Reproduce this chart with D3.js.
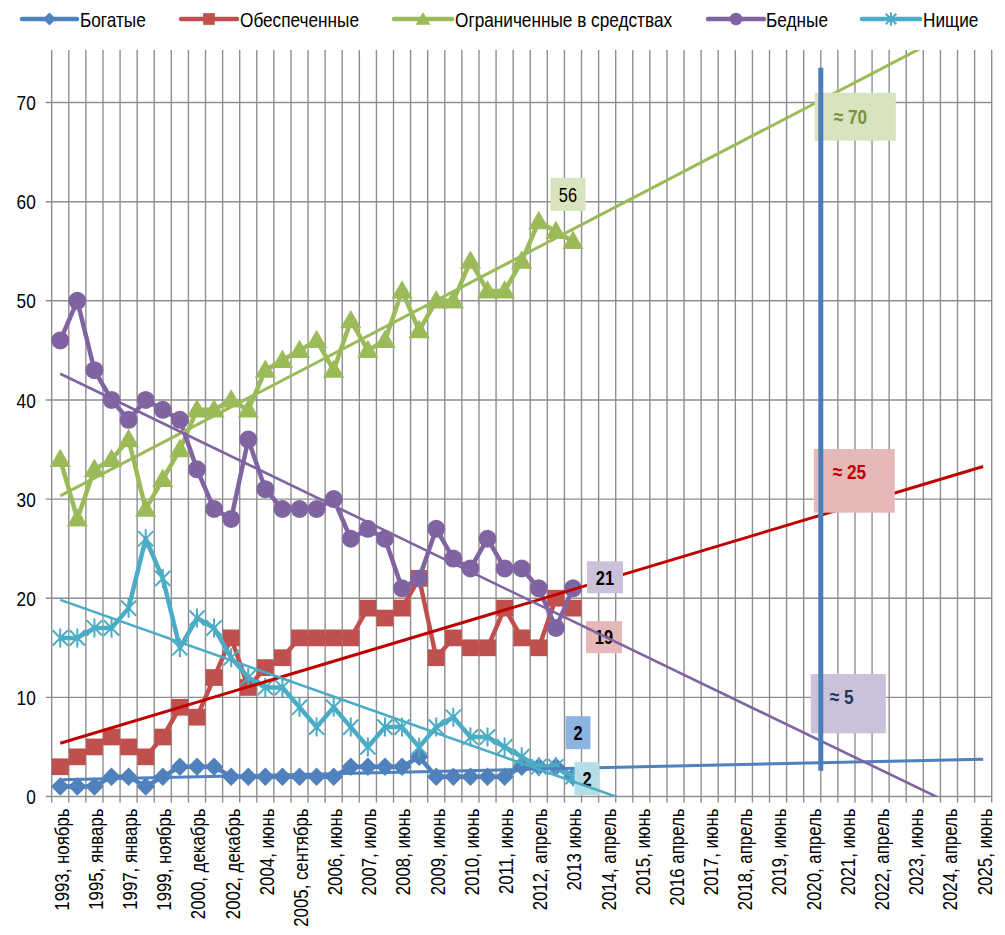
<!DOCTYPE html>
<html><head><meta charset="utf-8">
<script src="https://cdn.jsdelivr.net/npm/d3@7"></script>
<style>html,body{margin:0;padding:0;background:#fff;}</style>
</head><body>
<svg id="chart" width="1005" height="935"></svg>
<script>
// ---------- DATA ----------
const tickLabels = [
  "1993, ноябрь","","1995, январь","","1997, январь","","1999, ноябрь","",
  "2000, декабрь","","2002, декабрь","","2004, июнь","","2005, сентябрь","",
  "2006, июнь","","2007, июль","","2008, июнь","","2009, июнь","",
  "2010, июнь","","2011, июнь","","2012, апрель","","2013 июнь","",
  "2014, апрель","","2015, июнь","","2016 апрель","","2017, июнь","",
  "2018, апрель","","2019, июнь","","2020, апрель","","2021, июнь","",
  "2022, апрель","","2023, июнь","","2024, апрель","","2025, июнь"
];
const seriesNames = ["Богатые","Обеспеченные","Ограниченные в средствах","Бедные","Нищие"];
const rich      = [1,1,1,2,2,1,2,3,3,3,2,2,2,2,2,2,2,3,3,3,3,4,2,2,2,2,2,3,3,3,2];
const wellOff   = [3,4,5,6,5,4,6,9,8,12,16,11,13,14,16,16,16,16,19,18,19,22,14,16,15,15,19,16,15,20,19];
const limited   = [34,28,33,34,36,29,32,35,39,39,40,39,43,44,45,46,43,48,45,46,51,47,50,50,54,51,51,54,58,57,56];
const poor      = [46,50,43,40,38,40,39,38,33,29,28,36,31,29,29,29,30,26,27,26,21,22,27,24,23,26,23,23,21,17,21];
const destitute = [16,16,17,17,19,26,22,15,18,17,14,12,11,11,9,7,9,7,5,7,7,5,7,8,6,6,5,4,3,3,2];
const yTicks = [0,10,20,30,40,50,60,70];
const forecastTexts = ["≈ 70","≈ 25","≈ 5"];
const forecastBoundary = 45;          // category boundary of the 2020 marker line
const forecastLineRange = [2.6, 73.5];

// ---------- SETUP ----------
const svg = d3.select("#chart");
const W = 1005, H = 935;
const L = 51.7, R = 991.7, T = 50, B = 796.5;
const N = tickLabels.length;

function measure(fam){
  const t = svg.append("text").attr("font-family", fam).attr("font-size", 100).text("Ограниченные 1993");
  const w = t.node().getComputedTextLength(); t.remove(); return w;
}
const wN = measure("'Liberation Sans Narrow', 'Liberation Sans'");
const wR = measure("'Liberation Sans'");
const narrow = wN < wR * 0.9;
const FONT = narrow ? "'Liberation Sans Narrow', 'Arial Narrow', sans-serif" : "'Liberation Sans', Arial, sans-serif";
const SX = narrow ? 1 : 0.82;

const x = d3.scaleBand().domain(d3.range(N)).range([L, R]).padding(0);
const bw = x.bandwidth();
const xc = i => x(i) + bw / 2;
const y = d3.scaleLinear().domain([0, 75.3]).range([B, T]);

const colors = ["#4f81bd", "#c0504d", "#9bbb59", "#8064a2", "#4bacc6"];
const trendColors = ["#4f81bd", "#c00000", "#9bbb59", "#8064a2", "#4bacc6"];
const trendWidths = [3, 3, 3, 2.6, 2.6];
const allSeries = [rich, wellOff, limited, poor, destitute];

const GRID = "#8e8e8e";

// ---------- GRID ----------
const grid = svg.append("g");
grid.selectAll("line.h").data(yTicks).join("line")
  .attr("x1", L - 6).attr("x2", R)
  .attr("y1", d => y(d)).attr("y2", d => y(d))
  .attr("stroke", GRID).attr("stroke-width", 1.4);
grid.selectAll("line.v").data(d3.range(N + 1)).join("line")
  .attr("x1", d => L + d * bw).attr("x2", d => L + d * bw)
  .attr("y1", T).attr("y2", B + 6)
  .attr("stroke", GRID).attr("stroke-width", 1.4);

// y labels
svg.append("g").selectAll("text").data(yTicks).join("text")
  .attr("transform", d => `translate(${L - 16},${y(d)}) scale(${SX},1)`)
  .attr("text-anchor", "end").attr("dy", "0.36em")
  .attr("font-family", FONT).attr("font-size", 21).attr("fill", "#000")
  .text(d => d);

// x labels
svg.append("g").selectAll("text").data(d3.range(N).filter(i => tickLabels[i] !== "")).join("text")
  .attr("transform", i => `translate(${xc(i) + 1},${B + 12}) rotate(-90) scale(${SX},1)`)
  .attr("text-anchor", "end").attr("dy", "0.36em")
  .attr("font-family", FONT).attr("font-size", 20.5).attr("fill", "#000")
  .text(i => tickLabels[i]);

// ---------- MARKERS ----------
function asteriskPath(r){
  const d = r * 0.8;
  return `M0,${-r}L0,${r}M${-d},${-d}L${d},${d}M${-d},${d}L${d},${-d}`;
}
function drawMarker(g, k, scale){
  const s = scale || 1;
  if (k === 0) {
    g.append("path").attr("d", d3.symbol(d3.symbolSquare, 170 * s * s)())
      .attr("transform", "rotate(45)").attr("fill", colors[0]);
  } else if (k === 1) {
    g.append("path").attr("d", d3.symbol(d3.symbolSquare, 280 * s * s)()).attr("fill", colors[1]);
  } else if (k === 2) {
    g.append("path").attr("d", d3.symbol(d3.symbolTriangle, 195 * s * s)())
      .attr("transform", "translate(0,1.5)").attr("fill", colors[2]);
  } else if (k === 3) {
    g.append("circle").attr("r", 9 * s).attr("fill", colors[3]);
  } else {
    g.append("path").attr("d", asteriskPath(9.5 * s)).attr("stroke", colors[4])
      .attr("stroke-width", 2).attr("fill", "none");
  }
}

// ---------- SERIES ----------
const line = d3.line().x((d, i) => xc(i)).y(d => y(d));
allSeries.forEach((vals, k) => {
  const g = svg.append("g");
  g.append("path").attr("d", line(vals)).attr("fill", "none")
    .attr("stroke", colors[k]).attr("stroke-width", 4.5).attr("stroke-linejoin", "round");
  vals.forEach((v, i) => {
    const m = g.append("g").attr("transform", `translate(${xc(i)},${y(v)})`);
    drawMarker(m, k, 1);
  });
});

// ---------- TRENDS ----------
svg.append("clipPath").attr("id", "plotclip").append("rect")
  .attr("x", L).attr("y", T).attr("width", R - L).attr("height", B - T);
function linreg(vals){
  const n = vals.length, mx = d3.mean(d3.range(n)), my = d3.mean(vals);
  let sxy = 0, sxx = 0;
  vals.forEach((v, i) => { sxy += (i - mx) * (v - my); sxx += (i - mx) * (i - mx); });
  const b = sxy / sxx; return [my - b * mx, b];
}
const trendG1 = svg.append("g").attr("clip-path", "url(#plotclip)");
const labelG = svg.append("g");
const trendG2 = svg.append("g").attr("clip-path", "url(#plotclip)");
function drawTrend(g, k){
  const [a, b] = linreg(allSeries[k]);
  const pts = [0, N - 1].map(i => [xc(i), y(a + b * i)]);
  g.append("path").attr("d", d3.line()(pts)).attr("fill", "none")
    .attr("stroke", trendColors[k]).attr("stroke-width", trendWidths[k]);
}
[0, 1, 2].forEach(k => drawTrend(trendG1, k));
[3, 4].forEach(k => drawTrend(trendG2, k));

// ---------- DATA LABELS ----------
const last = limited.length - 1;
function box(g, cx, cy, w, h, fill, txt, bold, color, size){
  g.append("rect").attr("x", cx - w / 2).attr("y", cy - h / 2).attr("width", w).attr("height", h).attr("fill", fill);
  g.append("text").attr("transform", `translate(${cx},${cy}) scale(${SX},1)`)
    .attr("text-anchor", "middle").attr("dy", "0.36em")
    .attr("font-family", FONT).attr("font-size", size || 20)
    .attr("font-weight", bold ? "bold" : "normal").attr("fill", color || "#000").text(txt);
}
box(labelG, xc(last) - 5, y(limited[last]) - 47, 35, 33, "#d7e4bd", limited[last], false);
box(labelG, xc(last) + 32, y(poor[last]) - 11, 36, 32, "#ccc1da", poor[last], true);
box(labelG, xc(last) + 31, y(wellOff[last]) + 29, 36, 32, "#e6b9b8", wellOff[last], true);
box(labelG, xc(last) + 5, y(rich[last]) - 44, 25, 33, "#8db3e2", rich[last], true);
box(labelG, xc(last) + 14, y(destitute[last]) + 2, 25, 33, "#b7dee8", destitute[last], true);

// forecast boxes
const fx = L + forecastBoundary * bw;
function fbox(x0, y0, x1, y1, fill, txt, color, ty){
  labelG.append("rect").attr("x", x0).attr("y", y0).attr("width", x1 - x0).attr("height", y1 - y0).attr("fill", fill);
  labelG.append("text").attr("transform", `translate(${x0 + 19},${ty}) scale(${SX},1)`)
    .attr("dy", "0.36em").attr("font-family", FONT).attr("font-size", 21)
    .attr("font-weight", "bold").attr("fill", color).text(txt);
}
fbox(fx - 6, 92.7, fx + 75, 140.7, "#d7e4bd", forecastTexts[0], "#77933c", 116.5);
fbox(fx - 7, 449, fx + 74, 512.7, "#e6b9b8", forecastTexts[1], "#c00000", 471.5);
fbox(fx - 10, 674, fx + 65, 733.3, "#ccc1da", forecastTexts[2], "#1f3864", 696.5);

// ---------- FORECAST LINE ----------
svg.append("line").attr("x1", fx).attr("x2", fx)
  .attr("y1", y(forecastLineRange[1])).attr("y2", y(forecastLineRange[0]))
  .attr("stroke", "#4a7ebb").attr("stroke-width", 5);

// ---------- LEGEND ----------
const legendItems = [
  {x0: 22, x1: 77, tx: 80},
  {x0: 181, x1: 237, tx: 240},
  {x0: 394, x1: 452, tx: 455},
  {x0: 708, x1: 764, tx: 766},
  {x0: 862, x1: 920, tx: 923}
];
const LY = 19;
const lg = svg.append("g");
legendItems.forEach((it, k) => {
  lg.append("line").attr("x1", it.x0).attr("x2", it.x1).attr("y1", LY).attr("y2", LY)
    .attr("stroke", colors[k]).attr("stroke-width", 4.5).attr("stroke-linecap", "round");
  const m = lg.append("g").attr("transform", `translate(${(it.x0 + it.x1) / 2},${LY})`);
  drawMarker(m, k, 0.7);
  lg.append("text").attr("transform", `translate(${it.tx},${LY}) scale(${SX},1)`)
    .attr("dy", "0.36em").attr("font-family", FONT).attr("font-size", 21).attr("fill", "#000")
    .text(seriesNames[k]);
});
</script>
</body></html>
